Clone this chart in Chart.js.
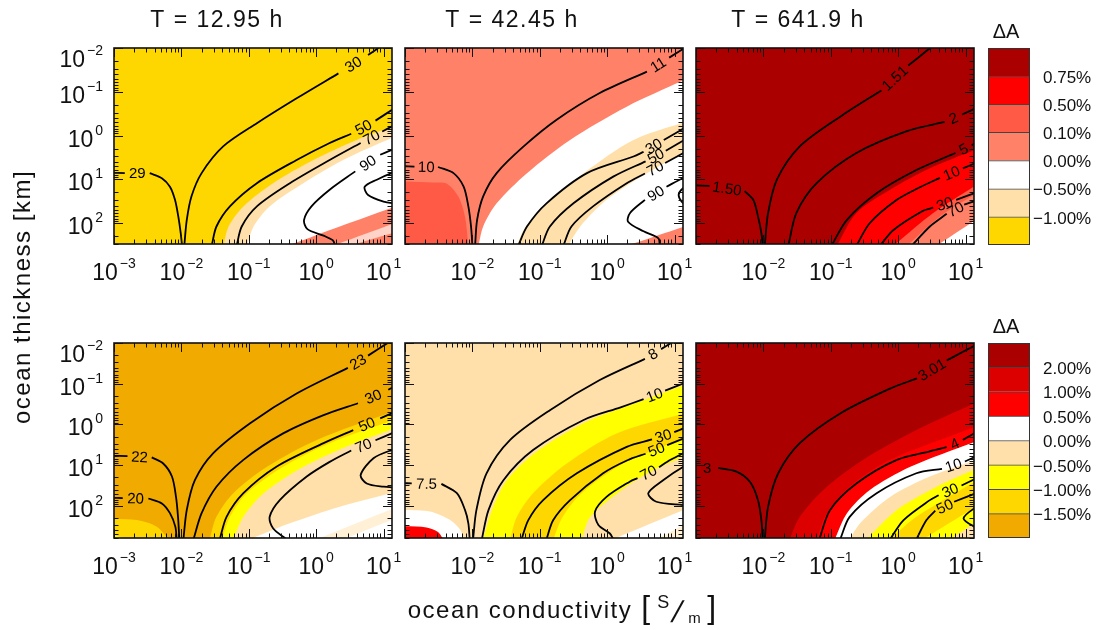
<!DOCTYPE html>
<html>
<head>
<meta charset="utf-8">
<title>Ocean response</title>
<script src="https://cdn.jsdelivr.net/npm/chart.js@4.4.1/dist/chart.umd.min.js"></script>
<style>
  html, body { margin: 0; padding: 0; background: #fff; }
  #figure { position: relative; width: 1104px; height: 630px; overflow: hidden; }
  #figure canvas { position: absolute; left: 0; top: 0; }
</style>
</head>
<body>
<div id="figure"></div>
<script>
// all curves are [log10 conductivity (S/m), log10 thickness (km)]
const titles = ['T = 12.95 h', 'T = 42.45 h', 'T = 641.9 h'];
const levelsTop = [0.75, 0.50, 0.10, 0.00, -0.50, -1.00];
const levelsBottom = [2.00, 1.00, 0.50, 0.00, -0.50, -1.00, -1.50];

// T = 12.95 h, upper row
const p1Mocc = [[-1.38, 2.55], [-1.30, 2.08], [-1.08, 1.62], [-0.64, 1.09], [-0.04, 0.56], [0.60, 0.10], [1.2, -0.24]];
const p1White = [[-1.03, 2.55], [-0.93, 2.08], [-0.69, 1.62], [-0.19, 1.09], [0.40, 0.56], [1.2, 0.0]];
const p1Salmon = [[-0.42, 2.52], [0.35, 2.08], [1.2, 1.61]];
const p1StreakA = [[0.25, 2.52], [1.2, 1.98]];
const p1StreakB = [[0.50, 2.52], [1.2, 2.20]];
const p1c29 = [[-3.05, 0.85], [-2.84, 0.86], '29', [-2.47, 0.86], [-2.29, 0.975], [-2.17, 1.17], [-2.095, 1.47], [-2.046, 1.85], [-2.01, 2.23], [-1.99, 2.52]];
const p1c30 = [[-1.957, 2.52], [-1.92, 1.93], [-1.85, 1.39], [-1.70, 0.86], [-1.38, 0.25], [-0.88, -0.28], [-0.29, -0.85], [0.33, -1.42], '30', [0.77, -1.84], [0.97, -2.05]];
const p1c50 = [[-1.55, 2.52], [-1.48, 2.08], [-1.28, 1.62], [-0.88, 1.09], [-0.29, 0.56], [0.20, 0.17], [0.52, -0.04], '50', [0.88, -0.34], [1.2, -0.66]];
const p1c70 = [[-1.18, 2.52], [-1.105, 2.08], [-0.88, 1.62], [-0.39, 1.09], [0.20, 0.56], [0.66, 0.17], '70', [0.98, -0.09], [1.2, -0.27]];
const p1c90 = [[1.2, 0.28], [1.12, 0.33], [0.95, 0.44], '90', [0.58, 0.82], [0.20, 1.24], [-0.07, 1.62], [-0.18, 1.93], [-0.13, 2.14], [0.11, 2.29], [0.25, 2.40], [0.28, 2.52]];
const p1Loop = [[1.2, 0.84], [1.12, 0.86], [0.90, 1.01], [0.72, 1.17], [0.77, 1.36], [1.0, 1.51], [1.2, 1.56]];

// T = 42.45 h, upper row
const p2Tomato = [[-3.05, 1.05], [-2.58, 1.075], [-2.38, 1.10], [-2.21, 1.39], [-2.11, 1.85], [-2.06, 2.52]];
const p2White = [[-1.91, 2.52], [-1.84, 2.08], [-1.64, 1.55], [-1.19, 0.86], [-0.55, 0.10], [0.29, -0.66], [1.2, -1.31]];
const p2Mocc = [[-1.34, 2.52], [-1.24, 2.16], [-0.95, 1.62], [-0.35, 0.86], [0.39, 0.10], [1.2, -0.33]];
const p2White2 = [[-0.58, 2.52], [-0.40, 2.08], [-0.01, 1.47], [0.59, 0.86], [1.2, 0.34]];
const p2Salmon = [[0.29, 2.52], [1.2, 2.05]];
const p2c10 = [[-3.05, 0.70], [-2.86, 0.71], '10', [-2.51, 0.72], [-2.28, 0.86], [-2.13, 1.17], [-2.06, 1.62], [-2.02, 2.08], [-2.0, 2.52]];
const p2c11 = [[-1.96, 2.52], [-1.93, 1.93], [-1.84, 1.39], [-1.64, 0.86], [-1.24, 0.25], [-0.75, -0.36], [-0.11, -0.97], [0.59, -1.46], '11', [0.92, -1.78], [1.2, -2.05]];
const p2c30 = [[-1.32, 2.52], [-1.19, 2.08], [-0.90, 1.55], [-0.30, 0.86], [0.39, 0.48], [0.54, 0.375], '30', [0.84, 0.105], [1.2, -0.22]];
const p2c50 = [[-0.97, 2.52], [-0.85, 2.08], [-0.50, 1.55], [0.09, 0.94], [0.57, 0.59], '50', [0.87, 0.35], [1.2, 0.05]];
const p2c70 = [[-0.65, 2.52], [-0.53, 2.08], [-0.21, 1.62], [0.29, 1.09], [0.56, 0.87], '70', [0.86, 0.63], [1.2, 0.34]];
const p2c90 = [[1.2, 0.93], [1.13, 0.97], [0.88, 1.17], '90', [0.56, 1.47], [0.34, 1.77], [0.31, 1.97], [0.54, 2.19], [0.76, 2.35], [0.78, 2.52]];
const p2Loop = [[1.2, 1.19], [1.13, 1.20], [1.06, 1.36], [1.13, 1.55], [1.2, 1.56]];

// T = 641.9 h, upper row
const p3Red = [[-0.91, 2.52], [-0.62, 1.77], [-0.12, 1.24], [0.47, 0.75], [1.2, 0.29]];
const p3Tomato = [[-0.07, 2.52], [0.52, 1.77], [1.2, 1.09]];
const p3Salmon = [[0.13, 2.52], [0.62, 1.85], [1.2, 1.29]];
const p3White = [[0.57, 2.52], [1.2, 1.88]];
const p3c150 = [[-3.05, 1.14], [-2.80, 1.15], '1.50', [-2.28, 1.27], [-2.15, 1.47], [-2.08, 1.85], [-2.03, 2.23], [-2.01, 2.52]];
const p3c151 = [[-1.98, 2.52], [-1.93, 1.77], [-1.80, 1.01], [-1.46, 0.25], [-0.86, -0.43], [-0.25, -1.03], '1.51', [0.15, -1.60], [0.45, -1.97], [0.55, -2.1]];
const p3c2 = [[-1.63, 2.52], [-1.51, 1.77], [-1.21, 1.09], [-0.62, 0.40], [0.13, -0.10], [0.69, -0.31], '2', [0.95, -0.48], [1.2, -0.66]];
const p3c5 = [[-0.99, 2.52], [-0.76, 1.93], [-0.32, 1.32], [0.27, 0.79], [0.85, 0.40], '5', [1.09, 0.22], [1.2, 0.14]];
const p3c10 = [[-0.62, 2.52], [-0.42, 2.0], [-0.02, 1.47], [0.30, 1.20], [0.62, 0.97], '10', [0.96, 0.75], [1.2, 0.60]];
const p3c30 = [[-0.27, 2.52], [-0.07, 2.16], [0.37, 1.72], [0.52, 1.65], '30', [0.86, 1.47], [1.2, 1.28]];
const p3c70 = [[0.20, 2.52], [0.47, 2.08], [0.72, 1.79], '70', [0.98, 1.58], [1.2, 1.47]];

// T = 12.95 h, lower row
const p4GoldBlob = [[-3.05, 2.31], [-2.66, 2.35], [-2.37, 2.51], [-2.19, 2.82]];
const p4YellowBlob = [[-3.05, 2.68], [-2.81, 2.82]];
const p4Gold = [[-1.58, 2.82], [-1.48, 2.27], [-1.23, 1.69], [-0.73, 1.04], [0.01, 0.38], [1.2, -0.35]];
const p4Yellow = [[-1.40, 2.82], [-1.28, 2.27], [-1.03, 1.69], [-0.49, 1.04], [0.20, 0.46], [1.2, -0.14]];
const p4Mocc = [[-1.23, 2.82], [-1.08, 2.27], [-0.78, 1.69], [-0.19, 1.04], [0.50, 0.51], [1.2, 0.07]];
const p4White = [[-0.98, 2.82], [-0.39, 2.43], [0.35, 2.02], [1.2, 1.65]];
const p4Streak = [[0.01, 2.82], [1.2, 2.03]];
const p4White2 = [[0.40, 2.82], [1.2, 2.29]];
const p4c22 = [[-3.05, 0.77], [-2.80, 0.78], '22', [-2.44, 0.81], [-2.27, 0.96], [-2.14, 1.28], [-2.08, 1.78], [-2.05, 2.27], [-2.03, 2.82]];
const p4c20 = [[-3.05, 1.80], [-2.87, 1.81], '20', [-2.49, 1.82], [-2.29, 1.94], [-2.17, 2.18], [-2.09, 2.51], [-2.07, 2.82]];
const p4c23 = [[-1.97, 2.82], [-1.92, 2.10], [-1.80, 1.37], [-1.53, 0.71], [-0.98, -0.03], [-0.29, -0.76], [0.47, -1.39], '23', [0.77, -1.69], [1.05, -1.99], [1.15, -2.1]];
const p4c30 = [[-1.82, 2.82], [-1.70, 2.18], [-1.48, 1.53], [-1.08, 0.87], [-0.49, 0.22], [0.11, -0.23], [0.62, -0.52], '30', [1.07, -0.85], [1.2, -0.97]];
const p4c50 = [[-1.43, 2.82], [-1.33, 2.27], [-1.08, 1.69], [-0.59, 1.04], [0.11, 0.46], [0.55, 0.14], '50', [0.95, -0.15], [1.2, -0.33]];
const p4c70 = [[1.2, 0.16], [1.12, 0.22], [0.88, 0.39], '70', [0.52, 0.64], [0.20, 0.92], [-0.14, 1.28], [-0.54, 1.86], [-0.69, 2.27], [-0.64, 2.55], [-0.44, 2.82]];
const p4Loop = [[1.2, 0.62], [1.12, 0.63], [0.85, 0.83], [0.66, 1.24], [0.75, 1.45], [1.0, 1.53], [1.2, 1.55]];

// T = 42.45 h, lower row
const p5Yellow = [[-1.84, 2.82], [-1.71, 2.10], [-1.49, 1.37], [-1.05, 0.67], [-0.30, -0.07], [0.49, -0.56], [1.2, -1.0]];
const p5Gold = [[-1.44, 2.82], [-1.34, 2.27], [-1.10, 1.69], [-0.60, 0.96], [0.14, 0.22], [1.2, -0.30]];
const p5Yellow2 = [[-0.80, 2.82], [-0.66, 2.27], [-0.38, 1.69], [0.24, 0.96], [1.2, 0.30]];
const p5Mocc = [[-0.38, 2.82], [-0.25, 2.27], [0.15, 1.69], [0.60, 1.20], [1.2, 0.74]];
const p5White = [[0.09, 2.82], [1.2, 2.06]];
const p5Mocc2 = [[0.73, 2.82], [1.2, 2.41]];
const p5WhiteBlob = [[-3.05, 2.10], [-2.63, 2.14], [-2.33, 2.35], [-2.18, 2.59], [-2.13, 2.82]];
const p5RedBlob = [[-3.05, 2.50], [-2.68, 2.53], [-2.51, 2.64], [-2.43, 2.82]];
const p5c75 = [[-3.05, 1.44], [-2.90, 1.45], '7.5', [-2.46, 1.46], [-2.23, 1.69], [-2.11, 2.10], [-2.06, 2.43], [-2.04, 2.82]];
const p5c8 = [[-1.99, 2.82], [-1.94, 2.10], [-1.79, 1.20], [-1.44, 0.38], [-0.85, -0.35], [-0.11, -1.09], [0.56, -1.61], '8', [0.80, -1.85], [1.0, -2.05]];
const p5c10 = [[-1.86, 2.82], [-1.76, 2.10], [-1.54, 1.37], [-1.10, 0.63], [-0.35, -0.11], [0.20, -0.42], [0.54, -0.62], '10', [0.86, -0.83], [1.2, -1.05]];
const p5c30 = [[-1.27, 2.82], [-1.17, 2.35], [-0.95, 1.86], [-0.45, 1.20], [0.29, 0.55], [0.665, 0.37], '30', [0.995, 0.19], [1.2, 0.05]];
const p5c50 = [[-0.90, 2.82], [-0.80, 2.35], [-0.55, 1.86], [-0.06, 1.20], [0.30, 0.88], [0.57, 0.72], '50', [0.89, 0.51], [1.2, 0.30]];
const p5c70 = [[1.2, 0.66], [1.13, 0.71], [0.94, 0.87], [0.77, 1.05], '70', [0.45, 1.32], [0.34, 1.40], [-0.01, 1.78], [-0.18, 2.14], [-0.13, 2.47], [0.04, 2.68], [0.09, 2.82]];
const p5Loop = [[1.2, 1.02], [1.13, 1.04], [0.83, 1.37], [0.61, 1.69], [0.73, 1.90], [1.13, 1.98], [1.2, 1.99]];

// T = 641.9 h, lower row
const p6Red2 = [[-1.61, 2.82], [-1.46, 2.27], [-1.11, 1.61], [-0.52, 0.87], [0.27, 0.14], [1.2, -0.57]];
const p6Red = [[-1.21, 2.82], [-1.06, 2.18], [-0.72, 1.53], [-0.12, 0.87], [1.2, 0.02]];
const p6White = [[-0.94, 2.82], [-0.76, 2.18], [-0.42, 1.61], [0.18, 1.04], [1.2, 0.39]];
const p6Mocc = [[-0.72, 2.82], [-0.55, 2.40], [-0.12, 1.78], [0.47, 1.28], [1.2, 0.85]];
const p6Yellow = [[-0.47, 2.82], [-0.02, 2.10], [0.57, 1.53], [1.2, 1.06]];
const p6Gold = [[-0.12, 2.82], [0.27, 2.27], [1.2, 1.34]];
const p6Yellow2 = [[0.37, 2.82], [1.2, 1.98]];
const p6Mocc2 = [[0.77, 2.82], [1.2, 2.36]];
const p6c3 = [[-3.05, 1.07], [-3.0, 1.07], '3', [-2.67, 1.07], [-2.40, 1.16], [-2.20, 1.41], [-2.08, 1.86], [-2.03, 2.35], [-2.01, 2.82]];
const p6c301 = [[-1.98, 2.82], [-1.93, 2.02], [-1.78, 1.20], [-1.46, 0.46], [-0.86, -0.27], [-0.12, -0.88], [0.28, -1.13], '3.01', [0.72, -1.57], [1.13, -1.93], [1.2, -1.98]];
const p6c4 = [[-1.17, 2.82], [-1.01, 2.10], [-0.62, 1.45], [-0.02, 0.87], [0.47, 0.66], [0.72, 0.56], '4', [0.96, 0.38], [1.2, 0.15]];
const p6c10 = [[-0.86, 2.82], [-0.72, 2.27], [-0.32, 1.69], [0.27, 1.20], [0.65, 1.09], '10', [0.99, 0.91], [1.2, 0.75]];
const p6c30 = [[-0.12, 2.82], [0.08, 2.35], [0.47, 1.86], [0.60, 1.74], '30', [0.94, 1.50], [1.2, 1.29]];
const p6c50 = [[0.27, 2.82], [0.42, 2.35], [0.55, 2.12], '50', [0.83, 1.90], [1.2, 1.66]];
const p6Loop = [[1.2, 2.05], [1.13, 2.06], [0.97, 2.31], [1.13, 2.51], [1.2, 2.52]];

// ---- layout and colours ----
const W = 1104, H = 630;
const FONT = '"Liberation Sans", Arial, sans-serif';
const cols = [[114, 392], [405, 683], [696, 974]];
const rows = [[48, 244], [343, 538]];
const titleX = [217, 512, 798];
const condMin = 1e-3, condMax = 10 ** 1.125;
const thickMin = 1e-2, thickMax = [10 ** 2.48, 10 ** 2.79];

const C = {
  dred: '#aa0000', red2: '#dd0000', red: '#ff0000', tomato: '#ff5a46', salmon: '#ff8268',
  white: '#ffffff', mocc: '#ffe0aa', yellow: '#ffff00', gold: '#ffd700', ochre: '#f0aa00'
};
const barTop = [C.dred, C.red, C.tomato, C.salmon, C.white, C.mocc, C.gold];
const barBottom = [C.dred, C.red2, C.red, C.white, C.mocc, C.yellow, C.gold, C.ochre];

const panels = [
  { col: 0, row: 0, bg: C.gold,
    bands: [[C.mocc, p1Mocc], [C.white, p1White], [C.salmon, p1Salmon], ['#ffd3c8', p1StreakA], [C.salmon, p1StreakB]],
    lines: [p1c29, p1c30, p1c50, p1c70, p1c90, p1Loop] },
  { col: 1, row: 0, bg: C.salmon,
    bands: [[C.tomato, p2Tomato], [C.white, p2White], [C.mocc, p2Mocc], [C.white, p2White2], [C.salmon, p2Salmon]],
    lines: [p2c10, p2c11, p2c30, p2c50, p2c70, p2c90, p2Loop] },
  { col: 2, row: 0, bg: C.dred,
    bands: [[C.red, p3Red], [C.tomato, p3Tomato], [C.salmon, p3Salmon], [C.white, p3White]],
    lines: [p3c150, p3c151, p3c2, p3c5, p3c10, p3c30, p3c70] },
  { col: 0, row: 1, bg: C.ochre,
    bands: [[C.gold, p4GoldBlob], [C.yellow, p4YellowBlob], [C.gold, p4Gold], [C.yellow, p4Yellow], [C.mocc, p4Mocc],
            [C.white, p4White], ['#fff0d6', p4Streak], [C.white, p4White2]],
    lines: [p4c22, p4c20, p4c23, p4c30, p4c50, p4c70, p4Loop] },
  { col: 1, row: 1, bg: C.mocc,
    bands: [[C.yellow, p5Yellow], [C.gold, p5Gold], [C.yellow, p5Yellow2], [C.mocc, p5Mocc], [C.white, p5White],
            ['#fff0d6', p5Mocc2], [C.white, p5WhiteBlob], [C.red, p5RedBlob]],
    lines: [p5c75, p5c8, p5c10, p5c30, p5c50, p5c70, p5Loop] },
  { col: 2, row: 1, bg: C.dred,
    bands: [[C.red2, p6Red2], [C.red, p6Red], [C.white, p6White], [C.mocc, p6Mocc], [C.yellow, p6Yellow],
            [C.gold, p6Gold], [C.yellow, p6Yellow2], [C.mocc, p6Mocc2]],
    lines: [p6c3, p6c301, p6c4, p6c10, p6c30, p6c50, p6Loop] }
];

function addCanvas() {
  const c = document.createElement('canvas');
  c.width = W; c.height = H;
  document.getElementById('figure').appendChild(c);
  return c;
}

const xy = p => ({ x: 10 ** p[0], y: 10 ** p[1] });

// a label string inside a contour cuts the line there
function splitContour(c) {
  const pieces = [[]], labels = [];
  for (const p of c) {
    if (typeof p === 'string') {
      labels.push({ text: p, from: pieces[pieces.length - 1].at(-1), to: null });
      pieces.push([]);
    } else {
      const last = labels[labels.length - 1];
      if (last && !last.to) last.to = p;
      pieces[pieces.length - 1].push(p);
    }
  }
  return { pieces, labels };
}

function logTicks(min, max) {
  const out = [];
  for (let e = Math.floor(Math.log10(min)); e <= Math.floor(Math.log10(max)); e++) {
    for (let k = 1; k <= 9; k++) {
      const v = k * 10 ** e;
      if (v >= min * 0.999 && v <= max * 1.001) out.push({ v, e, major: k === 1 });
    }
  }
  return out;
}

function drawPower(ctx, e, x, y, align) {
  const sup = e < 0 ? '\u2212' + (-e) : String(e);
  ctx.font = `23px ${FONT}`;
  const wb = ctx.measureText('10').width;
  ctx.font = `14px ${FONT}`;
  const ws = ctx.measureText(sup).width;
  const total = wb + 2 + ws;
  const x0 = align === 'center' ? x - total / 2 : x - total;
  ctx.textAlign = 'left';
  ctx.textBaseline = 'alphabetic';
  ctx.font = `23px ${FONT}`;
  ctx.fillText('10', x0, y);
  ctx.font = `14px ${FONT}`;
  ctx.fillText(sup, x0 + wb + 2, y - 12);
}

function panelPlugin(p, hMax, labels) {
  return {
    id: 'panel' + p.row + p.col,
    beforeDatasetsDraw(chart) {
      const { ctx, chartArea: a } = chart;
      ctx.save();
      ctx.fillStyle = p.bg;
      ctx.fillRect(a.left, a.top, a.right - a.left, a.bottom - a.top);
      ctx.restore();
    },
    afterDatasetsDraw(chart) {
      const { ctx, chartArea: a, scales: { x, y } } = chart;
      ctx.save();
      ctx.beginPath();
      ctx.rect(a.left, a.top, a.right - a.left, a.bottom - a.top);
      ctx.clip();
      ctx.font = `15px ${FONT}`;
      ctx.fillStyle = '#000';
      ctx.textAlign = 'center';
      ctx.textBaseline = 'middle';
      labels.forEach(l => {
        const ax = x.getPixelForValue(10 ** l.from[0]), ay = y.getPixelForValue(10 ** l.from[1]);
        const bx = x.getPixelForValue(10 ** l.to[0]), by = y.getPixelForValue(10 ** l.to[1]);
        let ang = Math.atan2(by - ay, bx - ax);
        if (ang > Math.PI / 2) ang -= Math.PI;
        if (ang < -Math.PI / 2) ang += Math.PI;
        ctx.save();
        ctx.translate((ax + bx) / 2, (ay + by) / 2);
        ctx.rotate(ang);
        ctx.fillText(l.text, 0, 1);
        ctx.restore();
      });
      ctx.restore();
    },
    afterDraw(chart) {
      const { ctx, chartArea: a, scales: { x, y } } = chart;
      const xt = logTicks(condMin, condMax), yt = logTicks(thickMin, hMax);
      ctx.save();
      ctx.strokeStyle = '#111';
      ctx.lineWidth = 1;
      ctx.beginPath();
      xt.forEach(t => {
        const px = Math.round(x.getPixelForValue(t.v)) + 0.5, len = t.major ? 9 : 4.5;
        ctx.moveTo(px, a.bottom); ctx.lineTo(px, a.bottom - len);
        ctx.moveTo(px, a.top); ctx.lineTo(px, a.top + len);
      });
      yt.forEach(t => {
        const py = Math.round(y.getPixelForValue(t.v)) + 0.5, len = t.major ? 9 : 4.5;
        ctx.moveTo(a.left, py); ctx.lineTo(a.left + len, py);
        ctx.moveTo(a.right, py); ctx.lineTo(a.right - len, py);
      });
      ctx.stroke();
      ctx.lineWidth = 1.6;
      ctx.strokeRect(a.left, a.top, a.right - a.left, a.bottom - a.top);

      ctx.fillStyle = '#111';
      xt.filter(t => t.major && (p.col === 0 || t.e > -3))
        .forEach(t => drawPower(ctx, t.e, x.getPixelForValue(t.v), a.bottom + 36, 'center'));
      if (p.col === 0) {
        yt.filter(t => t.major)
          .forEach(t => drawPower(ctx, t.e, a.left - 11, Math.max(y.getPixelForValue(t.v) + 11, a.top + 19), 'right'));
      }
      if (p.row === 0) {
        ctx.font = `23px ${FONT}`;
        ctx.letterSpacing = '1.5px';
        ctx.textAlign = 'center';
        ctx.fillText(titles[p.col], titleX[p.col], 27);
      }
      ctx.restore();
    }
  };
}

// axis titles shared by the whole figure
const figureText = {
  id: 'figureText',
  afterDraw(chart) {
    const ctx = chart.ctx;
    ctx.save();
    ctx.fillStyle = '#111';
    ctx.letterSpacing = '1.5px';
    ctx.textBaseline = 'alphabetic';

    ctx.save();
    ctx.translate(30, 297);
    ctx.rotate(-Math.PI / 2);
    ctx.font = `24px ${FONT}`;
    ctx.textAlign = 'center';
    ctx.fillText('ocean thickness [km]', 0, 0);
    ctx.restore();

    ctx.textAlign = 'left';
    ctx.font = `24px ${FONT}`;
    const w = ctx.measureText('ocean conductivity').width;
    const x0 = 562 - (w + 84) / 2;
    ctx.fillText('ocean conductivity', x0, 618);
    ctx.letterSpacing = '0px';
    ctx.font = `32px ${FONT}`;
    ctx.fillText('[', x0 + w + 9, 618);
    ctx.fillText(']', x0 + w + 75, 618);
    ctx.font = `18px ${FONT}`;
    ctx.fillText('S', x0 + w + 25, 608);
    ctx.font = `15px ${FONT}`;
    ctx.fillText('m', x0 + w + 56, 623);
    // long, slanted unit slash
    ctx.save();
    ctx.translate(x0 + w + 38, 622);
    ctx.transform(1, 0, -0.28, 1, 0, 0);
    ctx.font = `30px ${FONT}`;
    ctx.fillText('/', 0, 0);
    ctx.restore();
    ctx.restore();
  }
};

panels.forEach((p, i) => {
  const [left, right] = cols[p.col], [top, bottom] = rows[p.row];
  const hMax = thickMax[p.row];
  const datasets = [], labels = [];
  p.bands.forEach(([color, edge]) => datasets.push({
    data: edge.map(xy), backgroundColor: color, borderColor: 'rgba(0,0,0,0)', borderWidth: 0,
    fill: { value: hMax }, pointRadius: 0, tension: 0.3
  }));
  p.lines.forEach(c => {
    const s = splitContour(c);
    s.pieces.forEach(piece => datasets.push({
      data: piece.map(xy), borderColor: '#000', borderWidth: 1.8, fill: false, pointRadius: 0, tension: 0.3
    }));
    labels.push(...s.labels);
  });
  datasets.forEach((d, k) => { d.order = -k; });

  new Chart(addCanvas(), {
    type: 'line',
    data: { datasets },
    options: {
      animation: false, responsive: false, devicePixelRatio: 1, events: [],
      layout: { padding: { left, right: W - right, top, bottom: H - bottom } },
      elements: { line: { capBezierPoints: false } },
      plugins: { legend: { display: false }, tooltip: { enabled: false } },
      scales: {
        x: { type: 'logarithmic', min: condMin, max: condMax, display: false },
        y: { type: 'logarithmic', min: thickMin, max: hMax, reverse: true, display: false }
      }
    },
    plugins: i === 0 ? [panelPlugin(p, hMax, labels), figureText] : [panelPlugin(p, hMax, labels)]
  });
});

function colorbar(top, bottom, colors, levels) {
  const n = colors.length;
  new Chart(addCanvas(), {
    type: 'bar',
    data: {
      labels: ['\u0394A'],
      datasets: colors.slice().reverse().map(c => ({
        data: [1], backgroundColor: c, borderColor: '#444',
        borderWidth: { top: 1, bottom: 0, left: 0, right: 0 }, borderSkipped: false,
        barPercentage: 1, categoryPercentage: 1
      }))
    },
    options: {
      animation: false, responsive: false, devicePixelRatio: 1, events: [],
      layout: { padding: { left: 988, right: W - 1030, top, bottom: H - bottom } },
      plugins: { legend: { display: false }, tooltip: { enabled: false } },
      scales: {
        x: { stacked: true, display: false },
        y: { stacked: true, display: false, min: 0, max: n }
      }
    },
    plugins: [{
      id: 'colorbarText',
      afterDraw(chart) {
        const { ctx, chartArea: a, scales: { y } } = chart;
        ctx.save();
        ctx.strokeStyle = '#333';
        ctx.lineWidth = 1;
        ctx.strokeRect(a.left + 0.5, a.top + 0.5, a.right - a.left - 1, a.bottom - a.top - 1);
        ctx.fillStyle = '#111';
        ctx.font = `20px ${FONT}`;
        ctx.textAlign = 'center';
        ctx.fillText('\u0394A', 1006, a.top - 10);
        ctx.font = `17px ${FONT}`;
        ctx.textBaseline = 'middle';
        levels.forEach((v, j) => {
          const py = y.getPixelForValue(n - 1 - j) + 2;
          ctx.textAlign = 'left';
          ctx.fillText(Math.abs(v).toFixed(2) + '%', 1043, py);
          if (v < 0) {
            ctx.textAlign = 'right';
            ctx.fillText('\u2212', 1043, py);
          }
        });
        ctx.restore();
      }
    }]
  });
}

colorbar(48, 245, barTop, levelsTop);
colorbar(343, 538, barBottom, levelsBottom);
</script>
</body>
</html>
